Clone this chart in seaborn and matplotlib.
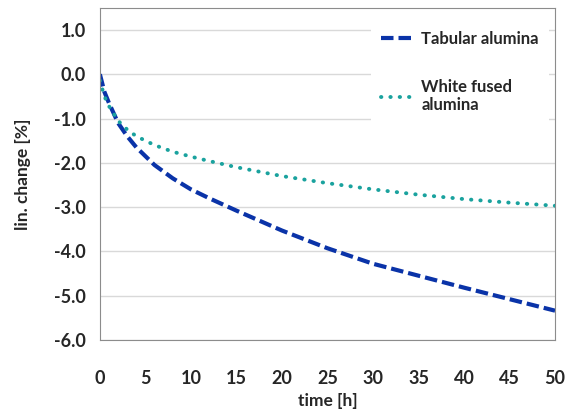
import pandas as pd
import seaborn as sns
import matplotlib.pyplot as plt

# values
time_h = [0, 0.5, 1, 2, 3, 4, 5, 6, 8, 10, 12, 15, 20, 25, 30, 35, 40, 45, 50]
tabular = [0, -0.4, -0.65, -1.1, -1.4, -1.65, -1.85, -2.05, -2.35, -2.6, -2.8,
           -3.08, -3.53, -3.93, -4.28, -4.55, -4.82, -5.08, -5.34]
white_fused = [-0.14, -0.5, -0.72, -1.05, -1.25, -1.4, -1.5, -1.6, -1.75, -1.86,
               -1.96, -2.1, -2.3, -2.46, -2.6, -2.72, -2.82, -2.9, -2.97]
series_names = ['Tabular alumina', 'White fused\nalumina']

data = pd.DataFrame({
    'time': time_h * 2,
    'change': tabular + white_fused,
    'Type': [series_names[0]] * len(time_h) + [series_names[1]] * len(time_h),
})

sns.set_style('white')
plt.rcParams['font.family'] = ['Lato', 'DejaVu Sans']
plt.rcParams['font.weight'] = 'bold'

fig = plt.figure(figsize=(5.74, 4.12), dpi=100)
ax = fig.add_axes([0.174, 0.175, 0.793, 0.806])

colors = {series_names[0]: '#0a33a8', series_names[1]: '#1aa29e'}
sns.lineplot(data=data[data['Type'] == series_names[0]], x='time', y='change',
             color=colors[series_names[0]], lw=3.0, ax=ax, label=series_names[0],
             dashes=False)
sns.lineplot(data=data[data['Type'] == series_names[1]], x='time', y='change',
             color=colors[series_names[1]], lw=2.8, ax=ax, label=series_names[1],
             dashes=False)
ax.lines[0].set_dashes((3.0, 1.2))
ax.lines[1].set_dashes((0.1, 2.3))
ax.lines[1].set_dash_capstyle('round')

ax.set_xlim(0, 50)
ax.set_ylim(-6, 1.5)
ax.set_xticks(range(0, 51, 5))
ax.set_yticks([1, 0, -1, -2, -3, -4, -5, -6])
ax.set_yticklabels(['{:.1f}'.format(v) for v in [1, 0, -1, -2, -3, -4, -5, -6]])
ax.yaxis.grid(True, color='#d9d9d9', lw=1)
for s in ax.spines.values():
    s.set_color('#8c8c8c')
ax.tick_params(axis='both', direction='out', length=5, width=1, color='#8c8c8c',
               labelsize=13, pad=5)
ax.tick_params(axis='x', pad=17)
for lbl in ax.get_xticklabels() + ax.get_yticklabels():
    lbl.set_fontweight('bold')

ax.set_xlabel('time [h]', fontsize=12.5, fontweight='bold', labelpad=4)
ax.set_ylabel('lin. change [%]', fontsize=12.5, fontweight='bold', labelpad=17)

leg = ax.legend(loc='upper left', bbox_to_anchor=(0.578, 0.985), frameon=True,
                facecolor='white', edgecolor='none', framealpha=1, fontsize=12,
                handlelength=2.0, handletextpad=0.4, labelspacing=1.9,
                borderpad=0.6)
leg.get_frame().set_boxstyle('square', pad=0)
for t in leg.get_texts():
    t.set_fontweight('bold')

plt.savefig('out.png', dpi=100)
